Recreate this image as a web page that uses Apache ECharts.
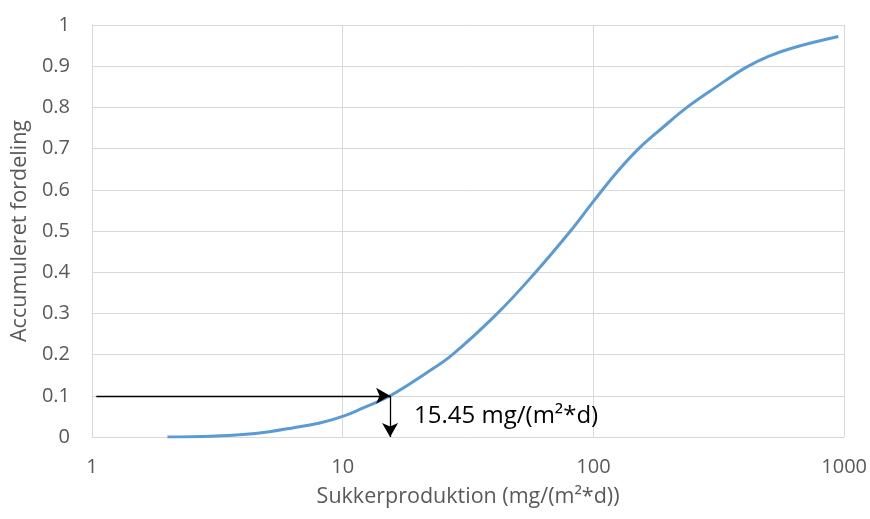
<!DOCTYPE html>
<html>
<head>
<meta charset="utf-8">
<script src="https://cdn.jsdelivr.net/npm/echarts@6/dist/echarts.min.js"></script>
<style>html,body{margin:0;padding:0;background:#fff}#c{width:870px;height:519px}</style>
</head>
<body>
<div id="c"></div>
<script>
// Data
const xValues = [2, 3, 4, 5.1, 6.3, 8.1, 10, 12, 15.45, 21.5, 27.4, 41.4, 58.8, 81, 100, 125, 151.6, 190.6, 236, 306, 403, 499, 637, 948];
const yValues = [0.0, 0.002, 0.006, 0.013, 0.022, 0.034, 0.05, 0.07, 0.1, 0.155, 0.2, 0.3, 0.4, 0.5, 0.572, 0.645, 0.7, 0.753, 0.8, 0.848, 0.896, 0.924, 0.946, 0.972];
const xTicks = [1, 10, 100, 1000];
const yTickStep = 0.1;
const markValue = 15.45;
const markLevel = 0.1;
const markText = '15.45 mg/(m²*d)';
const xTitle = 'Sukkerproduktion (mg/(m²*d))';
const yTitle = 'Accumuleret fordeling';

const font = 'Open Sans';
const chart = echarts.init(document.getElementById('c'), null, {renderer: 'canvas'});
chart.setOption({
  animation: false,
  grid: {left: 92, right: 24, top: 25, bottom: 82},
  xAxis: {
    type: 'log', logBase: 10, min: xTicks[0], max: xTicks[xTicks.length - 1],
    name: xTitle, nameLocation: 'middle', nameGap: 49,
    nameTextStyle: {color: '#595959', fontSize: 21.5, fontFamily: font},
    axisLine: {show: false}, axisTick: {show: false},
    axisLabel: {color: '#595959', fontSize: 20, fontFamily: font, margin: 20,
      formatter: v => String(Math.round(v))},
    splitLine: {show: true, lineStyle: {color: '#d9d9d9', width: 1}},
    minorTick: {show: false}
  },
  yAxis: {
    type: 'value', min: 0, max: 1, interval: yTickStep,
    name: yTitle, nameLocation: 'middle', nameGap: 60,
    nameTextStyle: {color: '#595959', fontSize: 21.5, fontFamily: font},
    axisLine: {show: true, lineStyle: {color: '#d9d9d9'}}, axisTick: {show: false},
    axisLabel: {color: '#595959', fontSize: 20, fontFamily: font, margin: 22},
    splitLine: {show: true, lineStyle: {color: '#d9d9d9', width: 1}}
  },
  series: [{
    type: 'line',
    data: xValues.map((x, i) => [x, yValues[i]]),
    smooth: 0.4,
    showSymbol: false,
    lineStyle: {color: '#5B9BD5', width: 3},
    markLine: {
      silent: true,
      symbol: ['none', 'arrow'],
      symbolSize: [12, 14],
      lineStyle: {color: '#000', width: 1.3, type: 'solid'},
      label: {show: false},
      data: [
        [{coord: [1.04, markLevel]}, {coord: [markValue, markLevel]}],
        [{coord: [markValue, markLevel]}, {coord: [markValue, 0]}]
      ]
    },
    markPoint: {
      silent: true,
      symbol: 'circle', symbolSize: 0,
      data: [{coord: [markValue, markLevel / 2]}],
      label: {show: true, position: 'right', distance: 24, formatter: markText,
        color: '#000', fontSize: 24, fontFamily: font}
    }
  }]
});
</script>
</body>
</html>
